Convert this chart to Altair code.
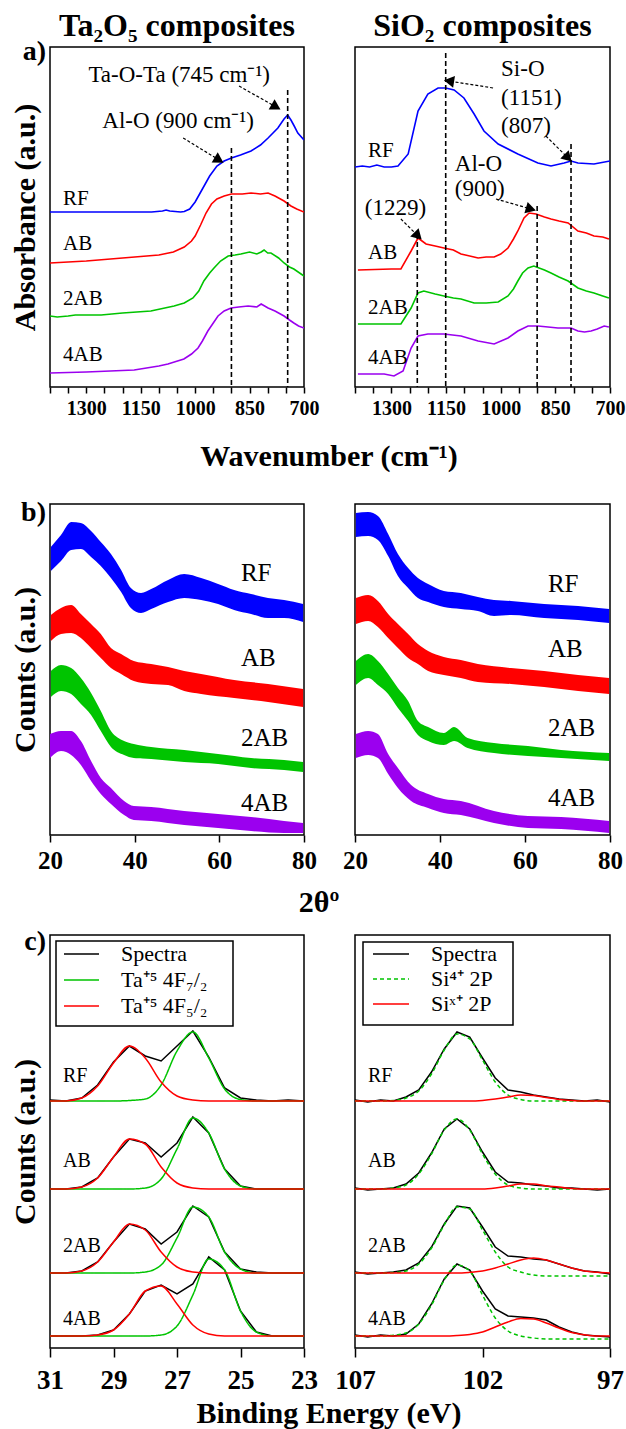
import altair as alt
import pandas as pd

FONT = "Liberation Serif"
SAMPLES = ["RF", "AB", "2AB", "4AB"]
SAMPLE_COLORS = ["#0000ff", "#ff0000", "#00c400", "#9b00ef"]
FIT_GREEN = "#00c400"
FIT_RED = "#ff0000"
ONE = pd.DataFrame({"k": [0]})

# ---------------- a) FTIR : Ta2O5 composites ----------------
ta_rf_wn = [1400, 1300, 1200, 1120, 1090, 1080, 1070, 1040, 1030, 1015, 1000, 980, 960, 940, 920, 900, 875, 846, 820, 799, 772, 755, 745, 736, 727, 717, 700]
ta_rf_ab = [175, 175, 175, 175, 176, 177, 176, 175, 175.5, 178, 185, 198, 211, 221, 226, 229, 232, 236, 242, 249, 259, 268, 272, 267, 261, 254, 247]
ta_ab_wn = [1400, 1300, 1200, 1100, 1060, 1030, 1010, 1000, 985, 970, 955, 940, 920, 900, 870, 846, 820, 799, 780, 765, 755, 736, 720, 700]
ta_ab_ab = [124, 126, 129, 132, 135, 140, 146, 151, 162, 174, 183, 188, 191, 193, 193, 194, 193, 194, 191, 188, 186, 181, 178, 175]
ta_2ab_wn = [1400, 1380, 1350, 1330, 1300, 1259, 1200, 1122, 1058, 1030, 1006, 990, 976, 960, 948, 930, 909, 890, 874, 850, 830, 818, 810, 800, 791, 770, 755, 740, 728, 700]
ta_2ab_ab = [71, 70, 71, 72, 72, 72, 74, 76, 81, 84, 89, 96, 106, 114, 119, 126, 131, 132, 133, 135, 133, 135, 137, 134, 134, 129, 124, 120, 118, 111]
ta_4ab_wn = [1400, 1300, 1168, 1100, 1075, 1031, 1010, 992, 980, 965, 950, 937, 920, 901, 880, 854, 830, 818, 799, 780, 755, 740, 728, 715, 700]
ta_4ab_ab = [14, 15, 17, 21, 23, 28, 33, 39, 46, 56, 64, 71, 76, 79, 80, 81, 80, 83, 79, 76, 71, 67, 64, 61, 59]
ta_vline_wn = [900, 745]
ta_vline_top = [239, 297]
ta_note_text = ["Ta-O-Ta (745 cm\u207b\u00b9)", "Al-O (900 cm\u207b\u00b9)"]
ta_note_wn = [1044, 1047]
ta_note_y = [312, 266]
ta_arrow_wn1 = [879, 1033]
ta_arrow_y1 = [301, 249]
ta_arrow_wn2 = [777, 934]
ta_arrow_y2 = [280, 227]
ta_arrow_angle = [30, 31]
ta_label_wn = 1364
ta_label_y = [188, 143, 88, 32]

# ---------------- a) FTIR : SiO2 composites ----------------
si_rf_wn = [1400, 1380, 1360, 1340, 1320, 1300, 1282, 1254, 1227, 1200, 1172, 1151, 1128, 1101, 1073, 1046, 1007, 953, 898, 862, 826, 807, 788, 744, 700]
si_rf_ab = [220, 221, 220, 222, 220, 220, 221, 233, 276, 293, 299, 299, 297, 289, 273, 256, 243, 233, 224, 221, 224, 226, 224, 223, 226]
si_ab_wn = [1392, 1300, 1274, 1246, 1227, 1205, 1180, 1156, 1130, 1109, 1085, 1062, 1040, 1018, 1000, 980, 965, 953, 936, 922, 903, 880, 862, 840, 815, 788, 765, 744, 720, 703]
si_ab_ab = [117, 118, 118, 136, 149, 143, 141, 139, 137, 133, 131, 129, 130, 130, 133, 139, 148, 156, 169, 174, 173, 170, 168, 166, 164, 156, 154, 151, 150, 148]
si_2ab_wn = [1392, 1300, 1274, 1246, 1227, 1211, 1180, 1156, 1130, 1109, 1073, 1040, 1007, 980, 965, 953, 940, 925, 909, 880, 862, 840, 815, 788, 765, 744, 720, 703]
si_2ab_ab = [63, 63, 63, 79, 94, 96, 93, 91, 89, 88, 84, 84, 85, 91, 98, 106, 114, 119, 121, 117, 114, 110, 106, 99, 96, 94, 91, 89]
si_4ab_wn = [1392, 1320, 1293, 1268, 1246, 1227, 1200, 1156, 1109, 1062, 1018, 980, 953, 925, 898, 870, 843, 807, 788, 770, 752, 735, 716, 703]
si_4ab_ab = [13, 13, 11, 16, 39, 51, 53, 53, 51, 46, 43, 49, 56, 61, 61, 60, 59, 59, 56, 55, 56, 58, 61, 60]
si_vline_wn = [1229, 1151, 900, 807]
si_vline_top = [153, 334, 181, 243]
si_note_text = ["Si-O", "(1151)", "(807)", "Al-O", "(900)", "(1229)"]
si_note_wn = [999, 999, 999, 1126, 1126, 1373]
si_note_y = [318, 289, 261, 223, 198, 179]
si_arrow_wn1 = [1021, 876, 1013, 1274]
si_arrow_y1 = [299, 251, 188, 168]
si_arrow_wn2 = [1142, 815, 917, 1227]
si_arrow_y2 = [306, 229, 178, 151]
si_arrow_angle = [189, 45, 16, 45]
si_label_wn = 1364
si_label_y = [236, 134, 79, 29]

# ---------------- b) XRD (centre of noisy band, half band width) ----------------
xl_rf_t = [20.2, 22.6, 25.0, 27.3, 29.7, 32.0, 34.4, 36.8, 39.1, 41.5, 43.9, 47.9, 51.7, 55.7, 59.7, 63.5, 67.5, 71.5, 75.3, 79.8]
xl_rf_c = [276, 287, 299, 299, 291, 281, 269, 254, 237, 232, 236, 244, 249, 246, 241, 235, 231, 227, 226, 222]
xl_rf_h = [12, 13, 14, 13, 13, 12, 12, 11, 10, 10, 10, 11, 12, 11, 10, 10, 10, 10, 9, 9]
xl_ab_t = [20.2, 22.6, 25.0, 27.3, 29.7, 32.0, 34.4, 36.8, 39.8, 43.9, 47.9, 51.7, 55.7, 63.5, 71.5, 79.8]
xl_ab_c = [207, 214, 216, 209, 199, 189, 177, 171, 164, 161, 159, 154, 151, 146, 142, 137]
xl_ab_h = [13, 13, 14, 12, 12, 12, 10, 10, 10, 10, 9, 10, 10, 9, 9, 9]
xl_2ab_t = [20.2, 22.6, 25.0, 27.3, 29.7, 32.0, 34.4, 37.5, 39.8, 43.9, 51.7, 59.7, 67.5, 75.3, 79.8]
xl_2ab_c = [151, 157, 154, 144, 131, 114, 96, 87, 84, 82, 79, 76, 72, 70, 68]
xl_2ab_h = [13, 13, 13, 13, 11, 10, 8, 7, 7, 6, 6, 5, 5, 5, 5]
xl_4ab_t = [20.0, 22.6, 25.0, 27.3, 29.7, 32.0, 34.4, 37.5, 39.8, 43.9, 51.7, 59.7, 67.5, 75.3, 79.8]
xl_4ab_c = [89, 94, 92, 82, 64, 49, 39, 27, 22, 21, 17, 14, 11, 8, 7]
xl_4ab_h = [12, 10, 12, 12, 10, 8, 8, 7, 7, 7, 7, 7, 7, 6, 5]
xl_label_t = 65.1
xl_label_y = [262, 177, 97, 32]

xr_rf_t = [20.2, 23.1, 25.4, 27.8, 30.1, 32.5, 34.8, 37.2, 40.9, 44.9, 48.9, 52.7, 56.7, 64.5, 72.5, 79.8]
xr_rf_c = [310, 311, 307, 290, 270, 257, 247, 242, 236, 234, 231, 227, 227, 224, 222, 219]
xr_rf_h = [12, 12, 12, 11, 11, 10, 10, 9, 8, 8, 7, 8, 7, 7, 7, 7]
xr_ab_t = [20.2, 23.1, 25.4, 27.8, 30.1, 32.5, 34.8, 37.2, 40.9, 44.9, 48.9, 56.7, 64.5, 72.5, 79.8]
xr_ab_c = [224, 227, 221, 209, 199, 189, 181, 174, 169, 166, 162, 159, 156, 152, 149]
xr_ab_h = [13, 13, 13, 12, 12, 12, 10, 10, 9, 9, 9, 8, 8, 8, 8]
xr_2ab_t = [20.2, 23.1, 25.4, 27.8, 30.1, 32.5, 34.8, 37.2, 40.9, 43.3, 46.5, 52.7, 60.7, 68.5, 79.8]
xr_2ab_c = [162, 169, 162, 151, 137, 124, 107, 101, 96, 101, 92, 87, 84, 81, 78]
xr_2ab_h = [12, 12, 12, 10, 10, 10, 7, 7, 6, 7, 5, 5, 5, 4, 4]
xr_4ab_t = [20.2, 23.1, 25.4, 27.8, 30.1, 33.2, 37.2, 40.9, 44.9, 52.7, 60.7, 68.5, 79.8]
xr_4ab_c = [89, 92, 89, 71, 57, 42, 34, 29, 27, 18, 13, 12, 8]
xr_4ab_h = [12, 12, 12, 10, 10, 8, 7, 7, 7, 6, 6, 6, 6]
xr_label_t = 65.4
xr_label_y = [251, 186, 107, 37]

# ---------------- c) XPS ----------------
ta_be = [31, 30.5, 30, 29.5, 29, 28.5, 28, 27.5, 27, 26.5, 26, 25.5, 25, 24.5, 24, 23.5, 23]
ta_rf_spec = [248, 247, 250, 263, 286, 302, 292, 287, 302, 317, 291, 260, 250, 248, 247, 248, 247]
ta_rf_f72 = [247, 247, 247, 247, 247, 247.5, 249, 263, 297, 316, 290, 259, 248.5, 247, 247, 247, 247]
ta_rf_f52 = [247, 247, 250, 262, 285, 302, 290, 266, 252, 248, 247, 247, 247, 247, 247, 247, 247]
ta_ab_spec = [159, 159, 161, 170, 191, 209, 205, 191, 205, 231, 215, 179, 162, 159, 159, 159, 159]
ta_ab_f72 = [159, 159, 159, 159, 159, 159, 160, 169, 199, 230, 215, 179, 162, 159, 159, 159, 159]
ta_ab_f52 = [159, 159, 161, 170, 191, 209, 204, 181, 165, 160, 159, 159, 159, 159, 159, 159, 159]
ta_2ab_spec = [75, 75, 77, 86, 106, 124, 119, 104, 116, 142, 131, 96, 79, 76, 75, 75, 75]
ta_2ab_f72 = [75, 75, 75, 75, 75, 75, 76, 83, 110, 141, 131, 96, 79, 75, 75, 75, 75]
ta_2ab_f52 = [75, 75, 77, 86, 106, 124, 118, 96, 81, 76, 75, 75, 75, 75, 75, 75, 75]
ta_4ab_spec = [12, 12, 12, 13, 18, 34, 57, 63, 54, 64, 91, 78, 37, 16, 12, 12, 12]
ta_4ab_f72 = [12, 12, 12, 12, 12, 12, 12, 13, 22, 53, 89, 78, 37, 16, 12, 12, 12]
ta_4ab_f52 = [12, 12, 12, 13, 18, 34, 57, 62, 44, 23, 14, 12, 12, 12, 12, 12, 12]
ta_xps_label_be = 30.59
xps_label_y = [272, 187, 102, 29]

si_be = [107, 106.5, 106, 105.5, 105, 104.5, 104, 103.5, 103, 102.5, 102, 101.5, 101, 100.5, 100, 99.5, 99, 98.5, 98, 97.5, 97]
si_rf_spec = [248, 246, 248, 247, 251, 258, 276, 299, 316, 311, 290, 270, 258, 256, 253, 251, 249, 248, 247, 248, 246]
si_rf_si4 = [247, 247, 247, 247.5, 250, 257, 274, 298, 314, 309, 288, 266, 253, 248.5, 247, 247, 247, 247, 247, 247, 247]
si_rf_six = [247, 247, 247, 247, 247, 247, 247, 247, 247, 247, 247.6, 249, 251, 253, 252.6, 250.6, 248.6, 247.5, 247, 247, 247]
si_ab_spec = [160, 158, 159, 160, 164, 175, 195, 219, 229, 219, 196, 176, 166, 165, 163, 162, 160, 160, 159, 158, 159]
si_ab_si4 = [159, 159, 159, 160, 163, 174, 194, 218, 229, 218, 194, 174, 163, 160, 159, 159, 159, 159, 159, 159, 159]
si_ab_six = [159, 159, 159, 159, 159, 159, 159, 159, 159, 159, 159, 160, 162, 164, 164, 162, 161, 159.5, 159, 159, 159]
si_2ab_spec = [76, 74, 75, 76, 78, 85, 101, 124, 142, 140, 121, 101, 92, 91, 89, 88, 84, 80, 77, 76, 74]
si_2ab_si4 = [75, 75, 75, 75.4, 77, 84, 100, 123, 141, 139, 118, 96, 81, 76, 73, 72, 72, 72, 72, 72, 72]
si_2ab_six = [75, 75, 75, 75, 75, 75, 75, 75, 75, 75.7, 77, 80, 84, 88, 90, 88, 84, 80, 77, 75.7, 75]
si_4ab_spec = [13, 11, 13, 12, 14, 24, 44, 69, 84, 78, 57, 39, 32, 31, 30, 28, 21, 16, 13, 12, 11]
si_4ab_si4 = [12, 12, 12, 12.7, 15, 24, 43, 68, 83, 77, 53, 30, 17, 12, 10, 9, 9, 9, 9, 9, 9]
si_4ab_six = [12, 12, 12, 12, 12, 12, 12, 12, 12.5, 13.6, 16, 21, 26, 29.6, 29, 25, 20, 15.6, 13.3, 12, 12]
si_xps_label_be = 106.49

ta_legend = ["Spectra", "Ta\u207a\u2075 4F\u2087/\u2082", "Ta\u207a\u2075 4F\u2085/\u2082"]
si_legend = ["Spectra", "Si\u2074\u207a 2P", "Si\u02e3\u207a 2P"]


# ---------------- helpers ----------------
def color_enc():
    return alt.Color("s:N", scale=alt.Scale(domain=SAMPLES, range=SAMPLE_COLORS), legend=None)


def x_axis(values, size, pad, label_expr=None, tick=6):
    kw = dict(values=values, format="d", labelFont=FONT, labelFontSize=size, labelFontWeight="bold",
              labelColor="black", labelPadding=pad, tickSize=tick, tickWidth=1.5, tickColor="black",
              domain=False, grid=False, title=None, labelFlush=False, labelOverlap=False)
    if label_expr:
        kw["labelExpr"] = label_expr
    return alt.Axis(**kw)


def y_axis(title):
    if not title:
        return None
    return alt.Axis(title=title, labels=False, ticks=False, domain=False, grid=False,
                    titleFont=FONT, titleFontSize=30, titleFontWeight="bold", titleColor="black",
                    titlePadding=10)


def fixed_text(text, x, y, size, align="center", weight="bold", baseline="middle"):
    return alt.Chart(ONE).mark_text(text=text, font=FONT, fontSize=size, fontWeight=weight, align=align,
                                    baseline=baseline, color="black").encode(x=alt.value(x), y=alt.value(y))


def long_df(series):
    rows = []
    for name, cols in series.items():
        for vals in zip(*cols):
            rows.append((name,) + tuple(vals))
    return rows


def ftir_panel(series, vl_wn, vl_top, notes, note_align, arrows, label_wn, label_y, ytitle, title, width, section=None):
    H = 340
    xs = alt.Scale(domain=[700, 1400], reverse=True, nice=False, zero=False)
    ys = alt.Scale(domain=[0, H], nice=False, zero=False)
    xax = x_axis(list(range(700, 1401, 50)), 20, 5,
                 "indexof([1300,1150,1000,850,700], datum.value) >= 0 ? datum.label : ''")
    yax = y_axis(ytitle)
    X = lambda f: alt.X(f + ":Q", scale=xs, axis=xax)
    Y = lambda f: alt.Y(f + ":Q", scale=ys, axis=yax)

    df = pd.DataFrame(long_df({k: (v[0], v[1]) for k, v in series.items()}), columns=["s", "x", "y"])
    lines = alt.Chart(df).mark_line(strokeWidth=1.6, clip=True).encode(x=X("x"), y=Y("y"), color=color_enc(), detail="s:N")
    vdf = pd.DataFrame({"x": vl_wn, "y": vl_top})
    vls = alt.Chart(vdf).mark_rule(color="black", strokeWidth=1.6, strokeDash=[5, 3]).encode(
        x=X("x"), y=Y("y"), y2=alt.value(H))
    adf = pd.DataFrame({"x": arrows[0], "y": arrows[1], "x2": arrows[2], "y2": arrows[3], "ang": arrows[4]})
    arl = alt.Chart(adf).mark_rule(color="black", strokeWidth=1.2, strokeDash=[3, 2]).encode(
        x=X("x"), y=Y("y"), x2="x2:Q", y2="y2:Q")
    heads = alt.Chart(adf).mark_point(shape="triangle-right", filled=True, size=140, color="black", opacity=1).encode(
        x=X("x2"), y=Y("y2"), angle=alt.Angle("ang:Q", scale=None))
    ndf = pd.DataFrame({"x": notes[1], "y": notes[2], "t": notes[0]})
    nts = alt.Chart(ndf).mark_text(font=FONT, fontSize=23, align=note_align, baseline="middle", color="black").encode(
        x=X("x"), y=Y("y"), text="t:N")
    ldf = pd.DataFrame({"x": [label_wn] * 4, "y": label_y, "t": SAMPLES})
    lbl = alt.Chart(ldf).mark_text(font=FONT, fontSize=21, align="left", baseline="middle", color="black").encode(
        x=X("x"), y=Y("y"), text="t:N")
    ttl = fixed_text(title, width / 2, -11, 32, baseline="alphabetic")
    layers = [lines, vls, arl, heads, nts, lbl, ttl]
    if section:
        layers.append(fixed_text(section, -4, 5, 28, align="right"))
    return alt.layer(*layers).properties(width=width, height=H)


def xrd_panel(series, label_t, label_y, ytitle, width, section=None):
    H = 331
    xs = alt.Scale(domain=[20, 80], nice=False, zero=False)
    ys = alt.Scale(domain=[0, H], nice=False, zero=False)
    xax = x_axis([20, 40, 60, 80], 25, 6, tick=7)
    yax = y_axis(ytitle)
    X = lambda f: alt.X(f + ":Q", scale=xs, axis=xax)
    Y = lambda f: alt.Y(f + ":Q", scale=ys, axis=yax)
    rows = []
    for name, (t, c, h) in series.items():
        for a, b, w in zip(t, c, h):
            rows.append({"s": name, "x": a, "lo": b - w, "hi": b + w})
    df = pd.DataFrame(rows)
    band = alt.Chart(df).mark_area(opacity=1, clip=True, interpolate="monotone").encode(
        x=X("x"), y=Y("lo"), y2="hi:Q", color=color_enc(), detail="s:N")
    ldf = pd.DataFrame({"x": [label_t] * 4, "y": label_y, "t": SAMPLES})
    lbl = alt.Chart(ldf).mark_text(font=FONT, fontSize=25, align="left", baseline="middle", color="black").encode(
        x=X("x"), y=Y("y"), text="t:N")
    layers = [band, lbl]
    if section:
        layers.append(fixed_text(section, -4, 9, 28, align="right"))
    return alt.layer(*layers).properties(width=width, height=H)


def xps_panel(be, series, domain, ticks, label_be, legend_labels, dash_green, legend_box, ytitle, width, section=None):
    H = 413
    xs = alt.Scale(domain=domain, reverse=True, nice=False, zero=False)
    ys = alt.Scale(domain=[0, H], nice=False, zero=False)
    xax = x_axis(ticks, 27, 10, tick=9)
    yax = y_axis(ytitle)
    X = lambda f: alt.X(f + ":Q", scale=xs, axis=xax)
    Y = lambda f: alt.Y(f + ":Q", scale=ys, axis=yax)
    rows = []
    for name, (spec, g, r) in series.items():
        for i, e in enumerate(be):
            rows.append({"s": name, "x": e, "spec": spec[i], "g": g[i], "r": r[i]})
    df = pd.DataFrame(rows)
    black = alt.Chart(df).mark_line(color="black", strokeWidth=1.5, clip=True).encode(x=X("x"), y=Y("spec"), detail="s:N")
    gdash = [4, 3] if dash_green else [1, 0]
    green = alt.Chart(df).mark_line(color=FIT_GREEN, strokeWidth=1.5, interpolate="monotone", strokeDash=gdash, clip=True).encode(
        x=X("x"), y=Y("g"), detail="s:N")
    red = alt.Chart(df).mark_line(color=FIT_RED, strokeWidth=1.5, interpolate="monotone", clip=True).encode(
        x=X("x"), y=Y("r"), detail="s:N")
    ldf = pd.DataFrame({"x": [label_be] * 4, "y": xps_label_y, "t": SAMPLES})
    lbl = alt.Chart(ldf).mark_text(font=FONT, fontSize=20, align="left", baseline="middle", color="black").encode(
        x=X("x"), y=Y("y"), text="t:N")
    bx0, bx1, by0, by1, lx0, lx1, tx, rys = legend_box
    layers = [black, green, red, lbl,
              alt.Chart(ONE).mark_rect(fill="white", stroke="black", strokeWidth=1.5).encode(
                  x=alt.value(bx0), x2=alt.value(bx1), y=alt.value(by0), y2=alt.value(by1))]
    cols = ["black", FIT_GREEN, FIT_RED]
    dashes = [[1, 0], gdash, [1, 0]]
    for lab, col, dsh, yy in zip(legend_labels, cols, dashes, rys):
        layers.append(alt.Chart(ONE).mark_rule(color=col, strokeWidth=1.5, strokeDash=dsh).encode(
            x=alt.value(lx0), x2=alt.value(lx1), y=alt.value(yy)))
        layers.append(fixed_text(lab, tx, yy, 22, align="left", weight="normal"))
    if section:
        layers.append(fixed_text(section, -4, 7, 28, align="right"))
    return alt.layer(*layers).properties(width=width, height=H)


def spacer(width, height, text=None, tx=0, ty=0, anchor=False):
    if text:
        ch = fixed_text(text, tx, ty, 30)
    else:
        ch = alt.Chart(ONE).mark_text(text="").encode(x=alt.value(0), y=alt.value(0))
    if anchor:
        # invisible rectangle fixing the page origin 49 px left of and 46 px above panel a)
        ch = alt.layer(ch, alt.Chart(ONE).mark_rect(opacity=0).encode(
            x=alt.value(-49), x2=alt.value(0), y=alt.value(-386), y2=alt.value(0)))
    return ch.properties(width=width, height=height, view=alt.ViewBackground(stroke="transparent"))


aL = ftir_panel({"RF": (ta_rf_wn, ta_rf_ab), "AB": (ta_ab_wn, ta_ab_ab), "2AB": (ta_2ab_wn, ta_2ab_ab), "4AB": (ta_4ab_wn, ta_4ab_ab)},
                ta_vline_wn, ta_vline_top, (ta_note_text, ta_note_wn, ta_note_y), "center",
                (ta_arrow_wn1, ta_arrow_y1, ta_arrow_wn2, ta_arrow_y2, ta_arrow_angle),
                ta_label_wn, ta_label_y, "Absorbance (a.u.)", "Ta\u2082O\u2085 composites", 254, section="a)")
aR = ftir_panel({"RF": (si_rf_wn, si_rf_ab), "AB": (si_ab_wn, si_ab_ab), "2AB": (si_2ab_wn, si_2ab_ab), "4AB": (si_4ab_wn, si_4ab_ab)},
                si_vline_wn, si_vline_top, (si_note_text, si_note_wn, si_note_y), "left",
                (si_arrow_wn1, si_arrow_y1, si_arrow_wn2, si_arrow_y2, si_arrow_angle),
                si_label_wn, si_label_y, None, "SiO\u2082 composites", 255)
bL = xrd_panel({"RF": (xl_rf_t, xl_rf_c, xl_rf_h), "AB": (xl_ab_t, xl_ab_c, xl_ab_h),
                "2AB": (xl_2ab_t, xl_2ab_c, xl_2ab_h), "4AB": (xl_4ab_t, xl_4ab_c, xl_4ab_h)},
               xl_label_t, xl_label_y, "Counts (a.u.)", 254, section="b)")
bR = xrd_panel({"RF": (xr_rf_t, xr_rf_c, xr_rf_h), "AB": (xr_ab_t, xr_ab_c, xr_ab_h),
                "2AB": (xr_2ab_t, xr_2ab_c, xr_2ab_h), "4AB": (xr_4ab_t, xr_4ab_c, xr_4ab_h)},
               xr_label_t, xr_label_y, None, 255)
cL = xps_panel(ta_be, {"RF": (ta_rf_spec, ta_rf_f72, ta_rf_f52), "AB": (ta_ab_spec, ta_ab_f72, ta_ab_f52),
                       "2AB": (ta_2ab_spec, ta_2ab_f72, ta_2ab_f52), "4AB": (ta_4ab_spec, ta_4ab_f72, ta_4ab_f52)},
               [23, 31], [31, 29, 27, 25, 23], ta_xps_label_be, ta_legend, False,
               (6, 183, 6, 91, 14, 49, 71, [19, 45, 71]), "Counts (a.u.)", 254, section="c)")
cR = xps_panel(si_be, {"RF": (si_rf_spec, si_rf_si4, si_rf_six), "AB": (si_ab_spec, si_ab_si4, si_ab_six),
                       "2AB": (si_2ab_spec, si_2ab_si4, si_2ab_six), "4AB": (si_4ab_spec, si_4ab_si4, si_4ab_six)},
               [97, 107], [107, 102, 97], si_xps_label_be, si_legend, True,
               (8, 158, 7, 90, 18, 54, 76, [19, 44, 69]), None, 255)

chart = alt.concat(
    aL, aR,
    spacer(254, 117, "Wavenumber (cm\u207b\u00b9)", 279, 70, anchor=True), spacer(255, 117),
    bL, bR,
    spacer(254, 100, "2\u03b8\u00ba", 269, 68), spacer(255, 100),
    cL, cR,
    spacer(254, 82, "Binding Energy (eV)", 279, 66), spacer(255, 82),
    columns=2, spacing={"row": 0, "column": 51}, bounds="flush", align="each",
).resolve_scale(color="independent").properties(padding=0, background="white").configure(
    font=FONT).configure_view(stroke="black", strokeWidth=1.5)

chart.save("out.html", embed_options={"renderer": "svg", "actions": False})
